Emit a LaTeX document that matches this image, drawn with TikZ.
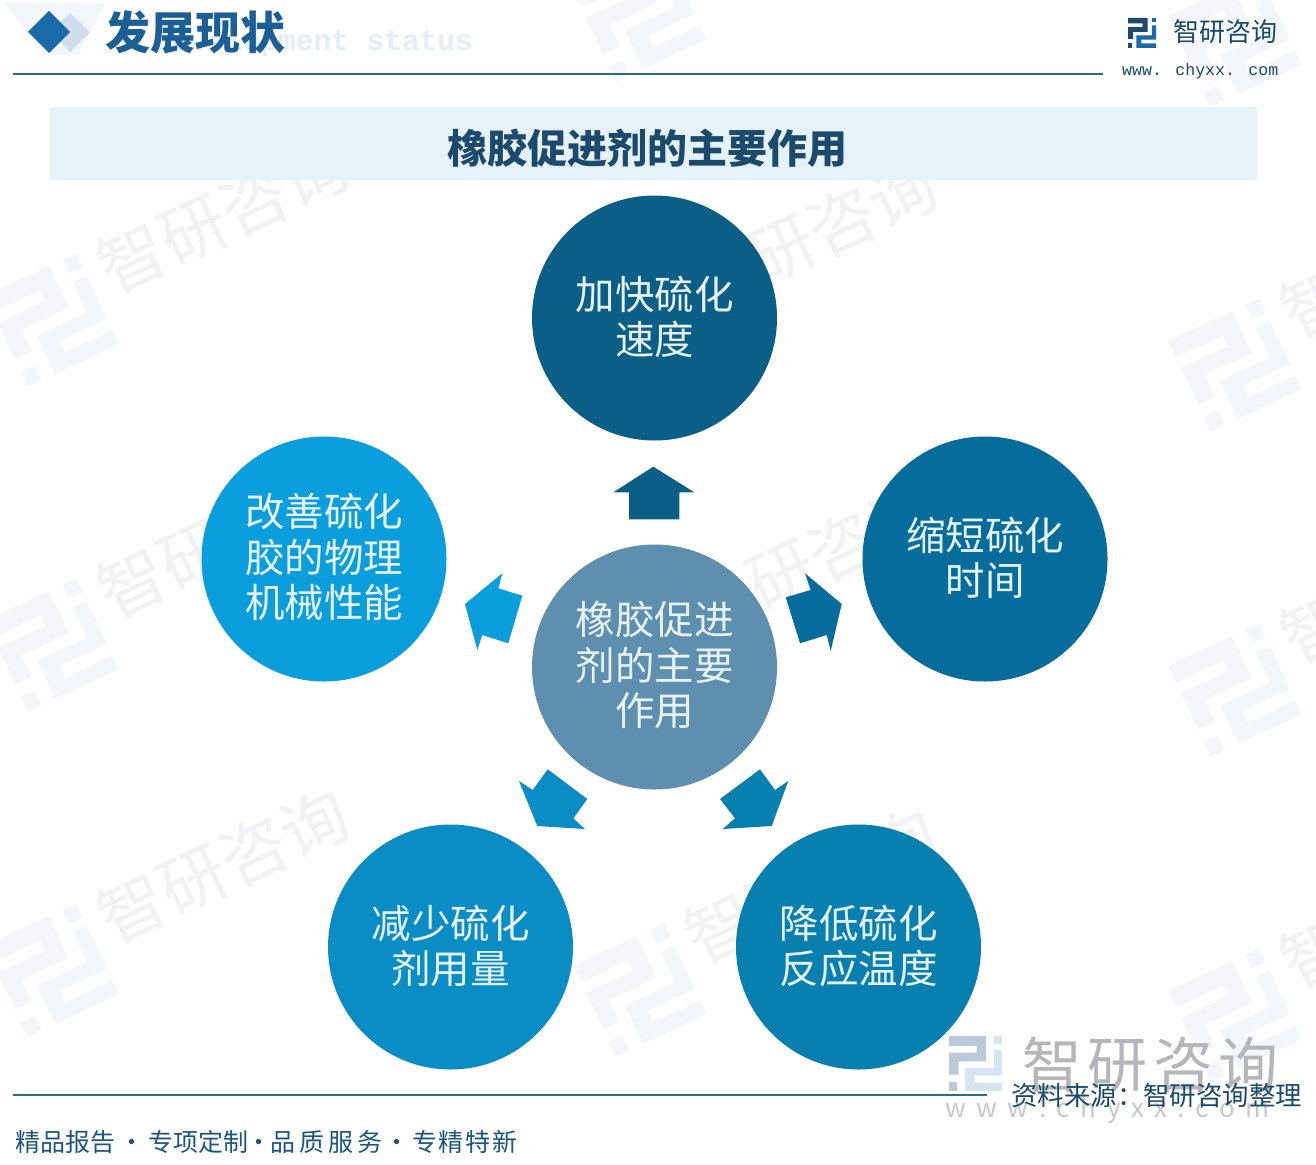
\documentclass[tikz,border=0pt]{standalone}
\usepackage{fontspec}
\setmainfont{Noto Sans CJK SC}
\newfontfamily\monofam{Liberation Mono}
\newcommand{\fs}[1]{\fontsize{#1pt}{#1pt}\selectfont}
\newcommand{\dn}{\rule[-5pt]{0pt}{1pt}}
\newcommand{\dnn}{\rule[-7pt]{0pt}{1pt}}
\newcommand{\logoshape}[2]{%
  \fill[#1] (0,0) -- (.70,0) -- (.70,.46) -- (.18,.46) -- (.18,.70) -- (0,.70) -- (0,.30) -- (.52,.30) -- (.52,.18) -- (0,.18) -- cycle;
  \fill[#1] (0,.84) rectangle (.15,1);
  \fill[#2] (.85,0) rectangle (1,.15);
  \fill[#2] (.85,.25) -- (1,.25) -- (1,.72) -- (.48,.72) -- (.48,.85) -- (1,.85) -- (1,1) -- (.30,1) -- (.30,.58) -- (.85,.58) -- cycle;
}
\newcommand{\wmlogo}[2]{%
  \begin{scope}[shift={(#1,#2)},rotate=25]
    \begin{scope}[shift={(-50,-50)}]
      \begin{scope}[x=100pt,y=-100pt]
        \logoshape{wmdark}{wmlight}
      \end{scope}
    \end{scope}
  \end{scope}}
\newcommand{\wmark}[2]{%
  \wmlogo{#1}{#2}
  \begin{scope}[shift={(#1,#2)},rotate=25]
    \node[wmtext,anchor=west,transform shape] at (62,-22) {智研咨询};
  \end{scope}}
\definecolor{wmdark}{HTML}{F5F6F9}
\definecolor{wmlight}{HTML}{F3F7FC}
\definecolor{wmgrey}{HTML}{F1F2F4}
\definecolor{inktitle}{HTML}{1B4A6C}
\definecolor{inkblue}{HTML}{1A6AA8}
\definecolor{inkhead}{HTML}{1C5F96}
\definecolor{inkfoot}{HTML}{1C5580}
\definecolor{ruleblue}{HTML}{2B6A8A}
\definecolor{ctop}{HTML}{0B5E85}
\definecolor{cright}{HTML}{056C9B}
\definecolor{cleft}{HTML}{0A9EDC}
\definecolor{cll}{HTML}{0A8CC4}
\definecolor{clr}{HTML}{077FAF}
\definecolor{ccentre}{HTML}{5E8FAE}
\definecolor{cband}{HTML}{E6F2FA}
\definecolor{cghost}{HTML}{E3EEF6}
\definecolor{cdia}{HTML}{CFDDEC}
\definecolor{cpale}{HTML}{F3F6FA}
\definecolor{ctext}{HTML}{E6F3FA}
\definecolor{bwdark}{HTML}{BBC9DB}
\definecolor{bwlight}{HTML}{D5E5F3}
\definecolor{bwtext}{HTML}{B4B6B9}
\definecolor{bwurl}{HTML}{C6C8CA}
\tikzset{
  wmtext/.style={text=wmgrey,font=\fs{67}},
  bubble/.style={circle,minimum size=245pt,inner sep=0pt,text=ctext,align=center,font=\fontsize{39.5pt}{45.5pt}\selectfont},
  rule/.style={draw=ruleblue,line width=2pt},
  bwchar/.style={font=\fs{60},text=bwtext,inner sep=0pt},
}
\begin{document}
\begin{tikzpicture}[x=1pt,y=-1pt]
\useasboundingbox (0,0) rectangle (1316,1164);
\fill[white] (0,0) rectangle (1316,1164);
\begin{scope}
\clip (0,0) rectangle (1316,1164);
\wmark{52}{320}\wmark{52}{645}\wmark{52}{970}
\wmlogo{640}{15}\wmark{640}{340}\wmark{640}{665}\wmark{640}{990}
\wmlogo{1235}{40}\wmark{1235}{365}\wmark{1235}{690}\wmark{1235}{1015}
\end{scope}
% header
\fill[cpale] (5,3) -- (105,3) -- (78,55) -- (45,55) -- cycle;
\fill[cdia] (70,13) -- (90,32) -- (70,52) -- (50,32) -- cycle;
\fill[inkblue] (49,11) -- (70,32) -- (49,53) -- (28,32) -- cycle;
\node[font=\monofam\bfseries\fs{29.5},text=cghost,anchor=west,inner sep=0pt] (ghost) at (154,43) {Development status};
\node[font=\bfseries\fs{45},text=inkhead,anchor=west,inner sep=0pt] (head) at (105,32) {发展现状};
\draw[rule] (13,74) -- (1103,74);
\begin{scope}[shift={(1128,18)}]
  \begin{scope}[x=28pt,y=-30pt]\logoshape{inktitle}{inkblue}\end{scope}
\end{scope}
\node[font=\fs{26},text=inktitle,anchor=west,inner sep=0pt] (brand) at (1173,32) {智研咨询};
\node[font=\monofam\fs{16.6},text=inktitle,anchor=west,inner sep=0pt] (url) at (1122,71.5) {www. chyxx. com};
% band
\fill[cband] (50,107) rectangle (1257,180);
\node[font=\bfseries\fs{40},text=inktitle,inner sep=0pt] (title) at (647,148) {橡胶促进剂的主要作用};
% circles
\node[bubble,fill=ctop] (top) at (654.5,318) {加快硫化\\速度\dn};
\node[bubble,fill=cright] (right) at (985,559) {缩短硫化\\时间\dn};
\node[bubble,fill=cleft] (left) at (324,559) {改善硫化\\胶的物理\\机械性能\dnn};
\node[bubble,fill=cll] (ll) at (450.5,947) {减少硫化\\剂用量\dn};
\node[bubble,fill=clr] (lr) at (858.5,947) {降低硫化\\反应温度\dn};
\node[bubble,fill=ccentre] (centre) at (654.5,667) {橡胶促进\\剂的主要\\作用\dnn};
% arrows
\fill[ctop] (653.3,466.7) -- (694.3,492.3) -- (679.3,492.3) -- (679.3,519.3) -- (629,519.3) -- (629,492.3) -- (613.3,492.3) -- cycle;
\fill[cright] (841.7,604) -- (805,573.3) -- (810.7,590) -- (785.7,597.3) -- (800,643.3) -- (826.7,635) -- (830.7,651) -- cycle;
\fill[cleft] (465,604) -- (502.3,573.3) -- (498.3,588.3) -- (522.3,595.7) -- (508.3,643.3) -- (482.3,635) -- (477.3,650) -- cycle;
\fill[cll] (547.7,769.3) -- (587.3,799) -- (573.3,818.3) -- (585,829) -- (537.3,826) -- (519,781) -- (532.7,790) -- cycle;
\fill[clr] (760,769.3) -- (775,790) -- (788.3,781) -- (771.7,826) -- (722.7,829) -- (735,818.3) -- (720,799) -- cycle;
% bottom watermark
\begin{scope}[shift={(949,1036)}]
  \begin{scope}[x=53pt,y=-55pt]\logoshape{bwdark}{bwlight}\end{scope}
\end{scope}
\node[bwchar] (wm1) at (1052,1065) {智};
\node[bwchar] (wm2) at (1117,1065) {研};
\node[bwchar] (wm3) at (1183,1065) {咨};
\node[bwchar] (wm4) at (1248,1065) {询};
\node[font=\fs{26},text=bwurl,anchor=west,inner sep=0pt] (wwwbig) at (945,1110) {w\hspace{10.5pt}w\hspace{10.5pt}w\hspace{10.5pt}.\hspace{10.5pt}c\hspace{10.5pt}h\hspace{10.5pt}y\hspace{10.5pt}x\hspace{10.5pt}x\hspace{10.5pt}.\hspace{10.5pt}c\hspace{10.5pt}o\hspace{10.5pt}m};
% footer
\draw[rule] (13,1095) -- (987,1095);
\node[font=\fs{26.4},text=inktitle,anchor=east,inner sep=0pt] (source) at (1302,1096) {资料来源：智研咨询整理};
\node[font=\fs{25},text=inkfoot,anchor=west,inner sep=0pt] (foot) at (15,1142) {精品报告\makebox[33pt][c]{·}专项定制\makebox[22pt][c]{·}品\hspace{4pt}质\hspace{4pt}服\hspace{4pt}务\makebox[30pt][c]{·}专\hspace{1.7pt}精\hspace{1.7pt}特\hspace{1.7pt}新};
\end{tikzpicture}
\end{document}
